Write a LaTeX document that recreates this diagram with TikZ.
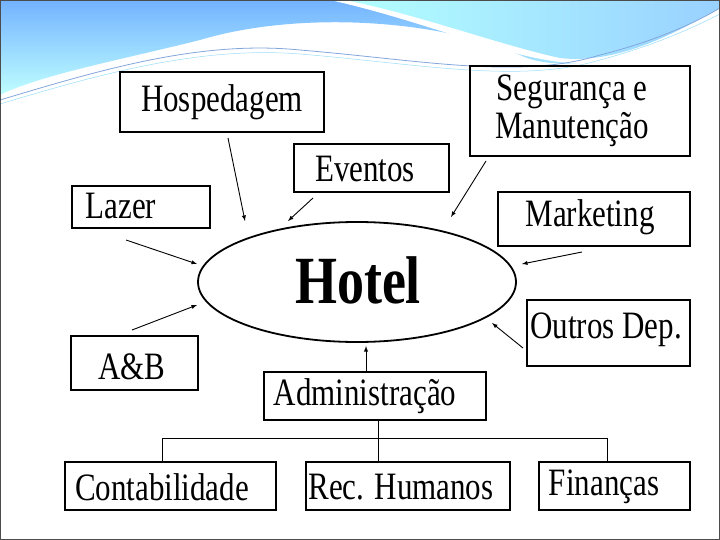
\documentclass[tikz,border=0pt]{standalone}
\usepackage{fontspec}
\setmainfont{Liberation Serif}
\begin{document}
\newcommand{\tx}[1]{\scalebox{1}[1.25]{#1}}
\begin{tikzpicture}[x=1pt,y=-1pt,
  bx/.style={draw=black,line width=1.3pt},
  lb/.style={font=\fontsize{31}{34}\selectfont,inner sep=0pt},
  ar/.style={-latex,line width=0.9pt}]
\useasboundingbox (0,0) rectangle (720,540);
\fill[white] (0,0) rectangle (720,540);
% top wave decoration
\shade[top color=cyan!45!blue!55,bottom color=cyan!25] (0,0) -- (720,0) -- (720,10) .. controls (650,60) and (560,75) .. (520,55) .. controls (440,20) and (300,10) .. (200,40) .. controls (120,60) and (40,75) .. (0,95) -- cycle;
\fill[white] (330,0) .. controls (420,20) and (500,55) .. (560,62) .. controls (620,70) and (680,40) .. (720,15) -- (720,0) -- cycle;
\shade[left color=cyan!30,right color=cyan!55!blue!40] (345,0) .. controls (420,15) and (500,45) .. (560,58) .. controls (620,65) and (680,30) .. (720,8) -- (720,0) -- cycle;
\draw[cyan!50!blue!50,line width=0.8pt] (0,100) .. controls (100,70) and (200,40) .. (300,50) .. controls (420,60) and (520,80) .. (600,55) .. controls (660,40) and (700,20) .. (720,8);
\draw[cyan!40,line width=0.5pt] (0,104) .. controls (100,74) and (200,46) .. (300,54) .. controls (420,64) and (520,84) .. (600,60) .. controls (660,44) and (700,24) .. (720,14);
\draw[black!70,line width=1.2pt] (0.6,0.6) rectangle (719.4,539.4);
% boxes
\draw[bx] (120,72) rectangle (324,132);
\node[lb] (hosp) at (222,102) {\tx{Hospedagem}};
\draw[bx] (470,66) rectangle (690,156);
\node[lb,align=center] (seg) at (572,111) {\tx{Segurança e}\\[3pt]\tx{Manutenção}};
\draw[bx] (294,144) rectangle (449,192);
\node[lb] (ev) at (365,169) {\tx{Eventos}};
\draw[bx] (72,186) rectangle (210,228);
\node[lb] (laz) at (121,206) {\tx{Lazer}};
\draw[bx] (498,192) rectangle (690,246);
\node[lb] (mkt) at (590,217) {\tx{Marketing}};
\draw[line width=1.8pt] (357,282) ellipse [x radius=159,y radius=60];
\node[inner sep=0pt,font=\fontsize{54}{60}\selectfont\bfseries] (hotel) at (358,280) {\tx{Hotel}};
\draw[bx] (527,300) rectangle (690,366);
\node[lb] (out) at (606,330) {\tx{Outros Dep.}};
\draw[bx] (71,336) rectangle (198,390);
\node[lb] (ab) at (132,367) {\tx{A\&B}};
\draw[bx] (264,372) rectangle (486,420);
\node[lb] (adm) at (365,396) {\tx{Administração}};
\draw[bx] (65,462) rectangle (276,510);
\node[lb] (cont) at (162,487) {\tx{Contabilidade}};
\draw[bx] (306,462) rectangle (510,510);
\node[lb] (rh) at (401,487) {\tx{Rec. Humanos}};
\draw[bx] (539,462) rectangle (690,510);
\node[lb] (fin) at (604,487) {\tx{Finanças}};
% arrows
\coordinate (a1) at (228,138); \coordinate (b1) at (245,221);
\coordinate (a2) at (313,198); \coordinate (b2) at (288,221);
\coordinate (a3) at (486,161); \coordinate (b3) at (451,217);
\coordinate (a4) at (126,240); \coordinate (b4) at (197,264);
\coordinate (a5) at (582,252); \coordinate (b5) at (522,264);
\coordinate (a6) at (132,330); \coordinate (b6) at (197,305);
\coordinate (a7) at (523,348); \coordinate (b7) at (492,323);
\coordinate (a8) at (366,372); \coordinate (b8) at (366,346);
\foreach \i in {1,...,8} \draw[ar] (a\i) -- (b\i);
% tree
\coordinate (t0) at (378,420); \coordinate (t1) at (378,438);
\coordinate (tl) at (162,438); \coordinate (tr) at (607,438);
\draw[line width=0.8pt] (t0) -- (t1) (tl) -- (tr)
  (tl) -- (162,462) (t1) -- (378,462) (tr) -- (607,462);
\end{tikzpicture}
\end{document}
